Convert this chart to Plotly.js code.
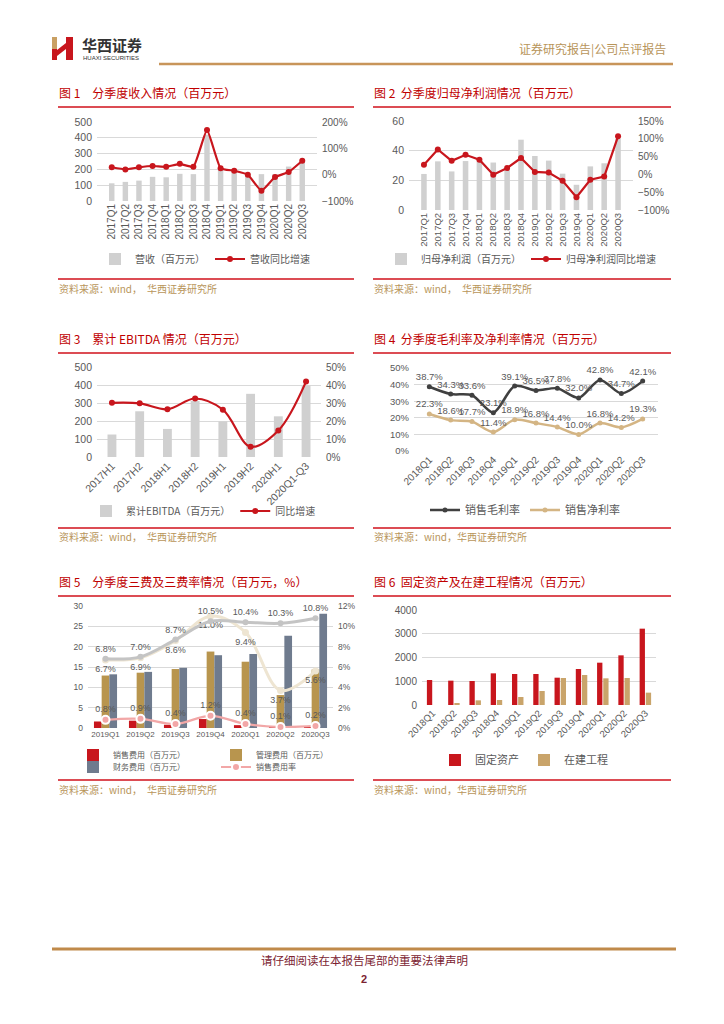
<!DOCTYPE html>
<html>
<head>
<meta charset="utf-8">
<script src="https://cdn.plot.ly/plotly-3.0.1.min.js"></script>
<style>
html,body{margin:0;padding:0;background:#fff;}
#page{width:724px;height:1024px;}
</style>
</head>
<body>
<div id="page"></div>
<script>
// ---------------- data ----------------
const quarterCats15 = ['2017Q1','2017Q2','2017Q3','2017Q4','2018Q1','2018Q2','2018Q3','2018Q4','2019Q1','2019Q2','2019Q3','2019Q4','2020Q1','2020Q2','2020Q3'];
const revenue = [112,121,129,153,150,172,170,420,200,193,168,170,170,218,250];
const revenueYoY = [28,20,28,33,30,41,30,170,24,15,0,-61,-9,10,53];

const netProfit = [24.3,32.8,26,33,33,32,28.3,47.4,36.4,33.3,24.5,17,29.4,31.5,48];
const netProfitYoY = [27,70,38,55,41,-1,18,46,7,5,-18,-64,-15,-6,107];

const halfCats = ['2017H1','2017H2','2018H1','2018H2','2019H1','2019H2','2020H1','2020Q1-Q3'];
const ebitda = [125,254,156,311,197,351,226,397];
const ebitdaYoY = [30.1,29.8,26.5,32.5,26.3,5.7,14.7,41.9];

const quarterCats11 = ['2018Q1','2018Q2','2018Q3','2018Q4','2019Q1','2019Q2','2019Q3','2019Q4','2020Q1','2020Q2','2020Q3'];
const grossMargin = [38.7,34.3,33.6,23.1,39.1,36.5,37.8,32.0,42.8,34.7,42.1];
const netMargin = [22.3,18.6,17.7,11.4,18.9,16.8,14.4,10.0,16.8,14.2,19.3];

const quarterCats7 = ['2019Q1','2019Q2','2019Q3','2019Q4','2020Q1','2020Q2','2020Q3'];
const sellingExp = [1.6,1.8,0.8,2.2,0.7,0.2,0.5];
const adminExp = [12.9,13.6,14.5,18.8,16.3,8.1,14.4];
const financeExp = [13.2,13.8,14.8,17.9,18.2,22.7,28.1];
const financeRate = [6.8,7.0,8.7,10.5,10.4,10.3,10.8];
const adminRate = [6.7,6.9,8.6,11.0,9.4,3.7,5.6];
const sellingRate = [0.8,0.9,0.4,1.2,0.4,0.1,0.2];

const fixedAssets = [1053,1025,1010,1333,1305,1305,1150,1516,1782,2091,3214];
const constructionInProgress = [0,84,196,210,337,590,1137,1263,1123,1137,520];

// ---------------- helpers ----------------
const W = 724, H = 1024;
const X = p => p / W;
const Y = p => 1 - p / H;
const NUM = 'Liberation Sans, Arial, sans-serif';
const CJK = 'Noto Sans CJK SC, sans-serif';
const TICK = '#595959';
const GRID = '#d9d9d9';
const RED = '#c8161d';
const TITLE_RED = '#c00000';
const GOLD = '#b8955a';

function tf(size){ return {family: NUM, size: size, color: TICK}; }
function xCat(dom, anchor, angle, size){
  return {domain:[X(dom[0]),X(dom[1])], anchor:anchor, type:'category', tickangle:angle,
    tickfont:tf(size), showgrid:false, showline:false, zeroline:false, ticks:'', fixedrange:true};
}
function yLeft(dom, anchor, range, dtick, size, suffix){
  return {domain:[Y(dom[1]),Y(dom[0])], anchor:anchor, range:range, dtick:dtick, tick0:range[0],
    tickfont:tf(size), gridcolor:GRID, gridwidth:1, zeroline:false, showline:false, ticks:'',
    ticksuffix: suffix||'', ticklabelstandoff:4, fixedrange:true};
}
function yRight(over, anchor, range, dtick, size, suffix){
  return {overlaying:over, anchor:anchor, side:'right', range:range, dtick:dtick, tick0:range[0],
    tickfont:tf(size), showgrid:false, zeroline:false, showline:false, ticks:'',
    ticksuffix: suffix||'', ticklabelstandoff:4, fixedrange:true};
}
function legendAt(x, y, size, entrywidth){
  const l = {x:X(x), y:Y(y), xanchor:'left', yanchor:'middle', orientation:'h',
    font:{family:CJK, size:size, color:TICK}, bgcolor:'rgba(0,0,0,0)', borderwidth:0,
    itemclick:false, itemdoubleclick:false};
  if (entrywidth) { l.entrywidth = entrywidth; l.entrywidthmode = 'pixels'; }
  return l;
}

// ---------------- traces ----------------
const traces = [
  // chart 1
  {type:'bar', x:quarterCats15, y:revenue, xaxis:'x', yaxis:'y', name:'营收（百万元）',
   marker:{color:'#d0d0d0'}, width:0.4, offset:-0.2, legend:'legend', hoverinfo:'skip'},
  {type:'scatter', mode:'lines+markers', x:quarterCats15, y:revenueYoY, xaxis:'x', yaxis:'y2', name:'营收同比增速',
   line:{color:RED, width:2.2, shape:'spline', smoothing:0.4}, marker:{color:RED, size:6}, legend:'legend', hoverinfo:'skip', cliponaxis:false},
  // chart 2
  {type:'bar', x:quarterCats15, y:netProfit, xaxis:'x2', yaxis:'y3', name:'归母净利润（百万元）',
   marker:{color:'#d0d0d0'}, width:0.4, offset:-0.2, legend:'legend2', hoverinfo:'skip'},
  {type:'scatter', mode:'lines+markers', x:quarterCats15, y:netProfitYoY, xaxis:'x2', yaxis:'y4', name:'归母净利润同比增速',
   line:{color:RED, width:2.2}, marker:{color:RED, size:6}, legend:'legend2', hoverinfo:'skip', cliponaxis:false},
  // chart 3
  {type:'bar', x:halfCats, y:ebitda, xaxis:'x3', yaxis:'y5', name:'累计EBITDA（百万元）',
   marker:{color:'#d0d0d0'}, width:0.32, offset:-0.16, legend:'legend3', hoverinfo:'skip'},
  {type:'scatter', mode:'lines+markers', x:halfCats, y:ebitdaYoY, xaxis:'x3', yaxis:'y6', name:'同比增速',
   line:{color:RED, width:2.2, shape:'spline', smoothing:1}, marker:{color:RED, size:6}, legend:'legend3', hoverinfo:'skip', cliponaxis:false},
  // chart 4
  {type:'scatter', mode:'lines+markers+text', x:quarterCats11, y:grossMargin, xaxis:'x4', yaxis:'y7', name:'销售毛利率',
   line:{color:'#404040', width:2.5, shape:'spline', smoothing:0.8}, marker:{color:'#404040', size:5},
   texttemplate:'%{y:.1f}%', textposition:'top center', textfont:{family:NUM, size:9.5, color:TICK},
   legend:'legend4', hoverinfo:'skip', cliponaxis:false},
  {type:'scatter', mode:'lines+markers+text', x:quarterCats11, y:netMargin, xaxis:'x4', yaxis:'y7', name:'销售净利率',
   line:{color:'#d4b584', width:2.5, shape:'spline', smoothing:0.8}, marker:{color:'#d4b584', size:5},
   texttemplate:'%{y:.1f}%', textposition:'top center', textfont:{family:NUM, size:9.5, color:TICK},
   legend:'legend4', hoverinfo:'skip', cliponaxis:false},
  // chart 5 bars
  {type:'bar', x:quarterCats7, y:sellingExp, xaxis:'x5', yaxis:'y8', name:'销售费用（百万元）',
   marker:{color:RED}, width:0.22, offset:-0.33, legend:'legend5', hoverinfo:'skip'},
  {type:'bar', x:quarterCats7, y:adminExp, xaxis:'x5', yaxis:'y8', name:'管理费用（百万元）',
   marker:{color:'#b8954e'}, width:0.22, offset:-0.11, legend:'legend5', hoverinfo:'skip'},
  {type:'bar', x:quarterCats7, y:financeExp, xaxis:'x5', yaxis:'y8', name:'财务费用（百万元）',
   marker:{color:'#6f7b8e'}, width:0.22, offset:0.11, legend:'legend6', hoverinfo:'skip'},
  // chart 5 rate lines
  {type:'scatter', mode:'lines+markers+text', x:quarterCats7, y:adminRate, xaxis:'x5', yaxis:'y9', name:'管理费用率',
   line:{color:'#eee5d2', width:3, shape:'spline', smoothing:1}, marker:{color:'#eee5d2', size:7},
   texttemplate:'%{y:.1f}%', textposition:'bottom center', textfont:{family:NUM, size:9, color:TICK},
   showlegend:false, hoverinfo:'skip', cliponaxis:false},
  {type:'scatter', mode:'lines+markers+text', x:quarterCats7, y:financeRate, xaxis:'x5', yaxis:'y9', name:'财务费用率',
   line:{color:'#c4c4c4', width:3, shape:'spline', smoothing:1}, marker:{color:'#c4c4c4', size:6},
   texttemplate:'%{y:.1f}%', textposition:'top center', textfont:{family:NUM, size:9, color:TICK},
   showlegend:false, hoverinfo:'skip', cliponaxis:false},
  {type:'scatter', mode:'lines+markers+text', x:quarterCats7, y:sellingRate, xaxis:'x5', yaxis:'y9', name:'销售费用率',
   line:{color:'#f2a7a7', width:2.2, shape:'spline', smoothing:1}, marker:{color:'#f2a7a7', size:8, line:{color:'#ffffff', width:2}},
   texttemplate:'%{y:.1f}%', textposition:'top center', textfont:{family:NUM, size:9, color:TICK},
   legend:'legend6', hoverinfo:'skip', cliponaxis:false},
  // chart 6
  {type:'bar', x:quarterCats11, y:fixedAssets, xaxis:'x6', yaxis:'y10', name:'固定资产',
   marker:{color:RED}, width:0.25, offset:-0.27, legend:'legend7', hoverinfo:'skip'},
  {type:'bar', x:quarterCats11, y:constructionInProgress, xaxis:'x6', yaxis:'y10', name:'在建工程',
   marker:{color:'#c9a46a'}, width:0.25, offset:0.02, legend:'legend7', hoverinfo:'skip'}
];

// ---------------- shapes ----------------
function hline(x0, x1, y, color, w){
  return {type:'line', xref:'paper', yref:'paper', x0:X(x0), x1:X(x1), y0:Y(y), y1:Y(y), line:{color:color, width:w}};
}
function rect(x0, y0, x1, y1, color){
  return {type:'rect', xref:'paper', yref:'paper', x0:X(x0), x1:X(x1), y0:Y(y1), y1:Y(y0), fillcolor:color, line:{width:0}};
}
function poly(pts, color){
  const d = pts.map((p,i)=> (i?'L':'M') + X(p[0]).toFixed(5) + ',' + Y(p[1]).toFixed(5)).join(' ') + ' Z';
  return {type:'path', xref:'paper', yref:'paper', path:d, fillcolor:color, line:{width:0}};
}
const LINE_RED = '#d0101b';
const shapes = [
  // header
  hline(159, 673, 64, '#c8955a', 2.5),
  rect(52, 37, 57, 49, '#c9a063'),
  rect(52, 49, 57, 60, RED),
  poly([[57,50],[66,43],[66,49],[57,56]], RED),
  rect(66, 37, 73, 60, RED),
  // chart frames
  hline(58, 354, 107, LINE_RED, 1.6), hline(58, 354, 279, LINE_RED, 1.6),
  hline(373, 671, 107, LINE_RED, 1.6), hline(373, 671, 279, LINE_RED, 1.6),
  hline(58, 354, 353, LINE_RED, 1.6), hline(58, 354, 528, LINE_RED, 1.6),
  hline(373, 671, 353, LINE_RED, 1.6), hline(373, 671, 528, LINE_RED, 1.6),
  hline(58, 354, 596, LINE_RED, 1.6), hline(58, 354, 780, LINE_RED, 1.6),
  hline(373, 671, 596, LINE_RED, 1.6), hline(373, 671, 780, LINE_RED, 1.6),
  // footer
  hline(52, 676, 949, '#c08a4a', 3)
];

// ---------------- annotations ----------------
function txt(text, x, y, size, color, family, anchor, extra){
  return Object.assign({text:text, x:X(x), y:Y(y), xref:'paper', yref:'paper', showarrow:false,
    xanchor:anchor||'left', yanchor:'middle', font:{family:family||CJK, size:size, color:color}}, extra||{});
}
const SP = '\u00a0';
const annotations = [
  txt('<b>华西证券</b>', 81, 44, 15, '#333333', CJK, 'left', {borderpad:0}),
  txt('HUAXI SECURITIES', 82, 58, 6, '#333333', NUM, 'left', {borderpad:0}),
  txt('证券研究报告|公司点评报告', 668, 49, 12, GOLD, CJK, 'right'),
  // titles
  txt('图'+SP+'1　分季度收入情况（百万元）', 57, 92, 12, TITLE_RED),
  txt('图'+SP+'2'+SP+SP+'分季度归母净利润情况（百万元）', 372, 92, 12, TITLE_RED),
  txt('图'+SP+'3　累计'+SP+'EBITDA'+SP+'情况（百万元）', 57, 338, 12, TITLE_RED),
  txt('图'+SP+'4'+SP+SP+'分季度毛利率及净利率情况（百万元）', 372, 338, 12, TITLE_RED),
  txt('图'+SP+'5　分季度三费及三费率情况（百万元，%）', 57, 581, 12, TITLE_RED),
  txt('图'+SP+'6'+SP+SP+'固定资产及在建工程情况（百万元）', 372, 581, 12, TITLE_RED),
  // sources
  txt('资料来源：wind，　华西证券研究所', 57, 288, 10, GOLD),
  txt('资料来源：wind，　华西证券研究所', 372, 288, 10, GOLD),
  txt('资料来源：wind，　华西证券研究所', 57, 536, 10, GOLD),
  txt('资料来源：wind，华西证券研究所', 372, 536, 10, GOLD),
  txt('资料来源：wind，　华西证券研究所', 57, 789, 10, GOLD),
  txt('资料来源：wind，华西证券研究所', 372, 789, 10, GOLD),
  // footer
  txt('请仔细阅读在本报告尾部的重要法律声明', 364, 960, 11.5, '#7b2331', CJK, 'center'),
  txt('<b>2</b>', 364, 979, 11, '#7b2331', NUM, 'center')
];

// ---------------- layout ----------------
const layout = {
  width: W, height: H,
  margin: {l:0, r:0, t:0, b:0, pad:0},
  paper_bgcolor: '#ffffff', plot_bgcolor: 'rgba(0,0,0,0)',
  barmode: 'overlay',
  showlegend: true,
  hovermode: false,
  font: {family: CJK, color: TICK},
  // chart 1
  xaxis: xCat([97,317], 'y', -90, 10),
  yaxis: yLeft([122,201], 'x', [0,500], 100, 10.5),
  yaxis2: yRight('y', 'x', [-100,200], 100, 10, '%'),
  // chart 2
  xaxis2: xCat([409,633], 'y3', -90, 9.5),
  yaxis3: yLeft([121,210], 'x2', [0,60], 20, 10.5),
  yaxis4: yRight('y3', 'x2', [-100,150], 50, 10, '%'),
  // chart 3
  xaxis3: xCat([97,321], 'y5', -45, 10.5),
  yaxis5: yLeft([367,457], 'x3', [0,500], 100, 10.5),
  yaxis6: yRight('y5', 'x3', [0,50], 10, 10, '%'),
  // chart 4
  xaxis4: xCat([414,658], 'y7', -45, 10),
  yaxis7: yLeft([368,451], 'x4', [0,50], 10, 9.5, '%'),
  // chart 5
  xaxis5: xCat([88,333], 'y8', 0, 8),
  yaxis8: yLeft([606,728], 'x5', [0,30], 5, 8.5),
  yaxis9: yRight('y8', 'x5', [0,12], 2, 8.5, '%'),
  // chart 6
  xaxis6: xCat([422,656], 'y10', -45, 9.5),
  yaxis10: yLeft([610,705], 'x6', [0,4000], 1000, 10),
  // legends
  legend: legendAt(95, 259, 10),
  legend2: legendAt(381, 259, 10),
  legend3: legendAt(86, 511, 10),
  legend4: legendAt(425, 510, 11),
  legend5: legendAt(73, 755, 8, 98),
  legend6: legendAt(73, 767, 8, 98),
  legend7: legendAt(435, 760, 11),
  shapes: shapes,
  annotations: annotations
};

Plotly.newPlot('page', traces, layout, {staticPlot:true, displayModeBar:false});
</script>
</body>
</html>
